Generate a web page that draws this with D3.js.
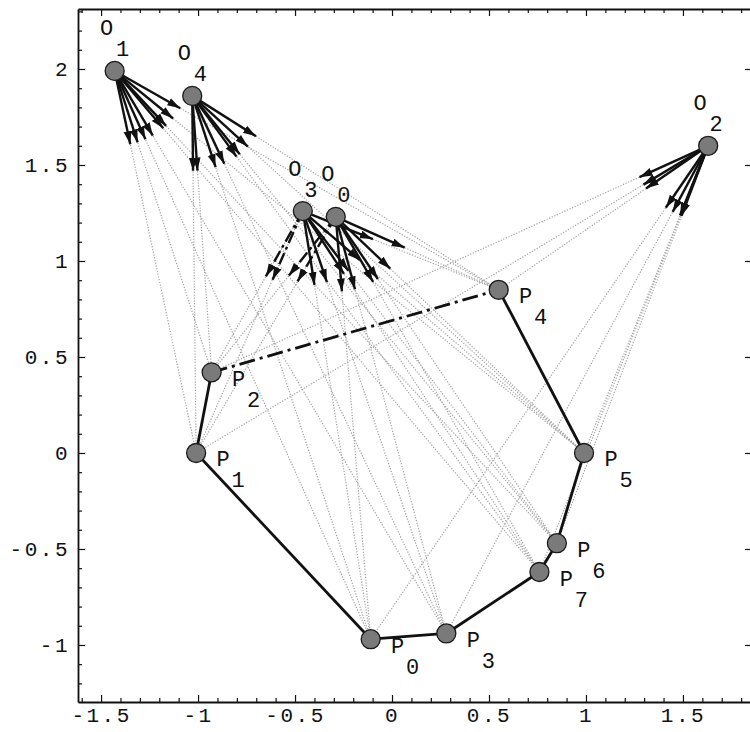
<!DOCTYPE html>
<html><head><meta charset="utf-8">
<script src="https://cdn.jsdelivr.net/npm/d3@7"></script>
<style>body{margin:0;background:#fff}svg{display:block}</style>
</head><body>
<svg id="c" width="750" height="732"></svg>
<script>
// ---- data ----
const oLabels = ["0","1","2","3","4"];
const oX = [-0.29, -1.43, 1.63, -0.46, -1.03];
const oY = [1.23, 1.99, 1.60, 1.26, 1.86];
const pLabels = ["0","1","2","3","4","5","6","7"];
const pX = [-0.11, -1.01, -0.93, 0.28, 0.55, 0.99, 0.85, 0.76];
const pY = [-0.97, 0.00, 0.42, -0.94, 0.85, 0.00, -0.47, -0.62];
const polygonOrder = [0,1,2,4,5,6,7,3,0];
const dashedEdge = [2,4];
const dashedArrowsFrom = [3,0];
const dashedArrowsTo = [1,2];
const xTicks = [-1.5,-1,-0.5,0,0.5,1,1.5];
const xTickLabels = ["-1.5","-1","-0.5","0","0.5","1","1.5"];
const yTicks = [-1,-0.5,0,0.5,1,1.5,2];
const yTickLabels = ["-1","-0.5","0","0.5","1","1.5","2"];
const arrowLen = 0.39;

// ---- scales ----
const x = d3.scaleLinear().domain([-1.619, 1.856]).range([78, 752]);
const y = d3.scaleLinear().domain([-1.297, 2.3125]).range([702, 9]);
const svg = d3.select("#c");
const FONT = "'Liberation Mono','DejaVu Sans Mono',monospace";

// minor tick values
const xMinor = d3.range(-16, 19).map(d => d/10).filter(v => Math.abs(v*2 - Math.round(v*2)) > 1e-6);
const yMinor = d3.range(-12, 24).map(d => d/10).filter(v => Math.abs(v*2 - Math.round(v*2)) > 1e-6);

function styleAxis(g){
  g.select(".domain").attr("stroke","#111").attr("stroke-width",1.8);
  g.selectAll(".tick line").attr("stroke","#111").attr("stroke-width",1.2);
  g.selectAll("text").attr("font-family",FONT).attr("font-size",21)
    .attr("letter-spacing","2.5px").attr("fill","#111");
}

// bottom axis
svg.append("g").attr("transform",`translate(0,${y.range()[0]})`)
  .call(d3.axisBottom(x).tickValues(xTicks).tickSizeInner(-7).tickSizeOuter(0).tickPadding(5)
    .tickFormat((d,i)=>xTickLabels[i])).call(styleAxis);
svg.append("g").attr("transform",`translate(0,${y.range()[0]})`)
  .call(d3.axisBottom(x).tickValues(xMinor).tickSizeInner(-4).tickSizeOuter(0).tickFormat(""))
  .call(styleAxis).select(".domain").remove();
// top axis
svg.append("g").attr("transform",`translate(0,${y.range()[1]})`)
  .call(d3.axisTop(x).tickValues(xTicks).tickSizeInner(-7).tickSizeOuter(0).tickFormat(""))
  .call(styleAxis);
svg.append("g").attr("transform",`translate(0,${y.range()[1]})`)
  .call(d3.axisTop(x).tickValues(xMinor).tickSizeInner(-4).tickSizeOuter(0).tickFormat(""))
  .call(styleAxis).select(".domain").remove();
// left axis
svg.append("g").attr("transform",`translate(${x.range()[0]},0)`)
  .call(d3.axisLeft(y).tickValues(yTicks).tickSizeInner(-7).tickSizeOuter(0).tickPadding(8)
    .tickFormat((d,i)=>yTickLabels[i])).call(styleAxis);
svg.append("g").attr("transform",`translate(${x.range()[0]},0)`)
  .call(d3.axisLeft(y).tickValues(yMinor).tickSizeInner(-4).tickSizeOuter(0).tickFormat(""))
  .call(styleAxis).select(".domain").remove();
// right axis (edge)
svg.append("g").attr("transform",`translate(${x.range()[1]},0)`)
  .call(d3.axisRight(y).tickValues(yTicks).tickSizeInner(-7).tickSizeOuter(0).tickFormat(""))
  .call(styleAxis);

// ---- gray sight lines ----
const O = oX.map((v,i)=>({x:v,y:oY[i],label:oLabels[i],i}));
const P = pX.map((v,i)=>({x:v,y:pY[i],label:pLabels[i],i}));
const pairs = [];
O.forEach(o=>P.forEach(p=>pairs.push({o,p})));
svg.append("g").selectAll("line").data(pairs).join("line")
  .attr("x1",d=>x(d.o.x)).attr("y1",d=>y(d.o.y))
  .attr("x2",d=>x(d.p.x)).attr("y2",d=>y(d.p.y))
  .attr("stroke","#a0a0a0").attr("stroke-width",1.2).attr("stroke-dasharray","1.2,1.6");

// ---- polygon ----
const edges = d3.pairs(polygonOrder);
svg.append("g").selectAll("line").data(edges).join("line")
  .attr("x1",d=>x(pX[d[0]])).attr("y1",d=>y(pY[d[0]]))
  .attr("x2",d=>x(pX[d[1]])).attr("y2",d=>y(pY[d[1]]))
  .attr("stroke","#111").attr("stroke-width",2.8)
  .attr("stroke-dasharray",d=>((d[0]===dashedEdge[0]&&d[1]===dashedEdge[1])||(d[0]===dashedEdge[1]&&d[1]===dashedEdge[0]))?"16,5,3,5":null);

// ---- arrows ----
svg.append("defs").append("marker").attr("id","ah")
  .attr("markerUnits","userSpaceOnUse").attr("markerWidth",14).attr("markerHeight",10)
  .attr("viewBox","0 -5 14 10").attr("refX",13).attr("refY",0).attr("orient","auto")
  .append("path").attr("d","M0,-4L13,0L0,4Z").attr("fill","#111");
const arrows = pairs.map(({o,p})=>{
  const dx=p.x-o.x, dy=p.y-o.y, n=Math.hypot(dx,dy);
  return {o,p,tx:o.x+arrowLen*dx/n, ty:o.y+arrowLen*dy/n,
    dashed: dashedArrowsFrom.includes(o.i)&&dashedArrowsTo.includes(p.i)};
});
svg.append("g").selectAll("line").data(arrows).join("line")
  .attr("x1",d=>x(d.o.x)).attr("y1",d=>y(d.o.y))
  .attr("x2",d=>x(d.tx)).attr("y2",d=>y(d.ty))
  .attr("stroke","#111").attr("stroke-width",2.4)
  .attr("stroke-dasharray",d=>d.dashed?"12,4,3,4":null)
  .attr("marker-end","url(#ah)");

// ---- points ----
const pts = O.concat(P);
svg.append("g").selectAll("circle").data(pts).join("circle")
  .attr("cx",d=>x(d.x)).attr("cy",d=>y(d.y)).attr("r",9.5)
  .attr("fill","#7a7a7a").attr("stroke","#1a1a1a").attr("stroke-width",1.3);

// ---- labels ----
const lab = svg.append("g").attr("font-family",FONT).attr("font-size",22).attr("fill","#111")
  .attr("text-anchor","middle").attr("dominant-baseline","central");
O.forEach(o=>{
  lab.append("text").attr("x",x(o.x)-8).attr("y",y(o.y)-41).text("O");
  lab.append("text").attr("x",x(o.x)+8).attr("y",y(o.y)-20).text(o.label);
});
P.forEach(p=>{
  lab.append("text").attr("x",x(p.x)+27).attr("y",y(p.y)+8).text("P");
  lab.append("text").attr("x",x(p.x)+42).attr("y",y(p.y)+29).text(p.label);
});
</script>
</body></html>
